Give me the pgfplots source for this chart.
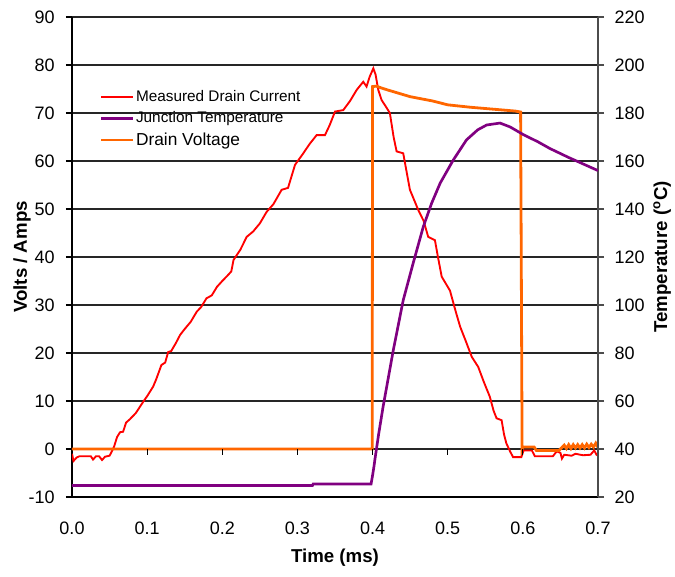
\documentclass[border=0pt]{standalone}
\usepackage{fontspec}
\setmainfont{Liberation Sans}
\usepackage{pgfplots}
\pgfplotsset{compat=1.18}
\definecolor{curred}{RGB}{255,0,0}
\definecolor{temppurple}{RGB}{128,0,128}
\definecolor{voltorange}{RGB}{255,102,0}

\begin{document}
\begin{tikzpicture}
% left axis: drain current and drain voltage
\begin{axis}[
  scale only axis, width=394.5pt, height=360pt,
  xmin=0, xmax=0.7, ymin=-10, ymax=90,
  xtick={0,0.1,0.2,0.3,0.4,0.5,0.6,0.7},
  ytick={-10,0,10,20,30,40,50,60,70,80,90},
  x tick label style={/pgf/number format/fixed, /pgf/number format/fixed zerofill,
    /pgf/number format/precision=1},
  xticklabel style={anchor=center, yshift=-18.75pt},
  yticklabel style={anchor=east, xshift=-5pt},
  /pgf/number format/assume math mode=true,
  tick label style={font=\fontsize{13.5}{16}\selectfont},
  label style={font=\fontsize{14}{16}\selectfont\bfseries},
  axis y line*=left, axis x line*=bottom,
  axis line style={black, line width=1pt},
  xtick style={draw=none},
  ytick style={black, line width=0.9pt},
  tick align=outside, major tick length=4.5pt,
  ymajorgrids, grid style={black!85, line width=0.9pt},
  xlabel={Time (ms)}, ylabel={Volts / Amps},
  xlabel style={at={(axis description cs:0.5,-0.127)}, anchor=center},
  ylabel style={at={(axis description cs:-0.095,0.5)}, anchor=center},
  legend style={at={(rel axis cs:0.05,0.853)}, anchor=north west, draw=none, fill=none,
    font=\fontsize{11.5}{13}\selectfont, row sep=4pt, inner sep=1pt,
    nodes={inner sep=1pt}},
  legend cell align=left,
  legend image code/.code={\draw[#1, line width=2.1pt] (0pt,0pt) -- (24pt,0pt);},
]
\addplot[curred, line width=1.4pt] coordinates {
(0,-1.0) (0.002,-2.5) (0.006,-1.8) (0.01,-1.5) (0.025,-1.5) (0.028,-2.2) (0.032,-1.5)
(0.036,-1.5) (0.04,-2.3) (0.044,-1.6) (0.05,-1.4) (0.053,-0.5) (0.056,0.5) (0.06,2.5)
(0.064,3.5) (0.068,3.6) (0.072,5.5) (0.077,6.2) (0.085,7.5) (0.095,9.9) (0.1,11)
(0.108,13) (0.112,14.5) (0.119,17.5) (0.124,18) (0.128,20.2) (0.132,20.4) (0.138,22)
(0.144,23.8) (0.15,25) (0.158,26.5) (0.166,28.6) (0.172,29.6) (0.179,31.4) (0.186,32)
(0.193,33.8) (0.2,35) (0.208,36.3) (0.212,37) (0.215,39.4) (0.224,41.5) (0.2325,44.2)
(0.241,45.3) (0.25,47) (0.259,49.4) (0.268,51) (0.279,54) (0.2875,54.4) (0.2968,59.2)
(0.3078,61.6) (0.316,63.5) (0.3256,65.4) (0.3367,65.4) (0.343,67.5) (0.35,70.3)
(0.361,70.6) (0.37,72.5) (0.3788,74.8) (0.3876,76.5) (0.392,75.5) (0.396,77.5)
(0.401,79.3) (0.404,78) (0.4076,74.8) (0.412,72.7) (0.417,71.5) (0.423,70) (0.428,65)
(0.432,62) (0.4408,61.6) (0.445,58) (0.4497,54) (0.455,52) (0.4608,49.8) (0.468,47.5)
(0.474,44.2) (0.483,43.5) (0.487,40) (0.492,35.9) (0.503,33) (0.51,29) (0.5165,25.5)
(0.524,22.5) (0.532,19.2) (0.5406,17.1) (0.548,14) (0.556,10.9) (0.561,8) (0.565,6.4)
(0.5717,6) (0.575,3) (0.578,1.2) (0.583,-0.5) (0.587,-1.7) (0.598,-1.7) (0.601,-0.3)
(0.612,-0.3) (0.616,-1.5) (0.64,-1.5) (0.645,-0.5) (0.65,-0.8) (0.652,-2) (0.655,-1.2)
(0.665,-1.4) (0.67,-1.0) (0.68,-1.3) (0.69,-1.2) (0.695,-0.3) (0.698,-1.2) (0.7,-1.4)
};
\addlegendentry{Measured Drain Current}
\addlegendimage{temppurple, line width=2.1pt}
\addlegendentry{Junction Temperature}
\addplot[voltorange, line width=2.1pt] coordinates {
(0,0) (0.3995,0) (0.4,75.5) (0.405,75.6) (0.412,75.2) (0.42,74.8) (0.45,73.4) (0.48,72.5)
(0.5,71.7) (0.53,71.2) (0.56,70.8) (0.59,70.4) (0.597,70.2) (0.599,0) (0.6,0.4)
(0.615,0.4) (0.618,-0.3) (0.648,-0.3) (0.652,0.3) (0.655,0.8) (0.658,0.1) (0.661,0.9)
(0.664,0.1) (0.667,0.9) (0.67,0.2) (0.673,0.9) (0.676,0.2) (0.679,0.9) (0.682,0.2)
(0.685,1.0) (0.688,0.3) (0.691,1.0) (0.694,0.4) (0.697,1.2) (0.7,0.3)
};
\addlegendentry{\fontsize{13}{14}\selectfont Drain Voltage}
\pgfplotsinvokeforeach{0.1,0.2,0.3,0.4,0.5,0.6}{
  \draw[black, line width=0.9pt] (axis cs:#1,0) -- ([yshift=-4.5pt]axis cs:#1,0);
}
\end{axis}
% right axis: junction temperature
\begin{axis}[
  scale only axis, width=394.5pt, height=360pt,
  xmin=0, xmax=0.7, ymin=20, ymax=220,
  ytick={20,40,60,80,100,120,140,160,180,200,220},
  axis y line*=right, axis x line=none,
  /pgf/number format/assume math mode=true,
  tick label style={font=\fontsize{13.5}{16}\selectfont},
  label style={font=\fontsize{14}{16}\selectfont\bfseries},
  yticklabel style={anchor=west, xshift=4.5pt},
  axis line style={black!70, line width=1pt},
  ytick style={black!70, line width=0.9pt},
  tick align=outside, major tick length=4.5pt,
  ylabel={Temperature (\textsuperscript{o}C)},
  ylabel style={at={(axis description cs:1.122,0.5)}, anchor=center},
]
\addplot[temppurple, line width=2pt] coordinates {
(0,24.8) (0.32,24.8) (0.321,25.4) (0.398,25.4) (0.4,29) (0.402,33) (0.403,35.4)
(0.408,46) (0.414,57.6) (0.4276,81.2) (0.4408,102) (0.454,117.4) (0.4675,132.6)
(0.4786,142.4) (0.49,150.8) (0.5074,160.4) (0.525,168.8) (0.54,173) (0.5518,175)
(0.5696,175.8) (0.583,174.2) (0.6006,171) (0.62,168) (0.636,165.2) (0.66,161.6)
(0.68,158.8) (0.7,156)
};
\end{axis}
\pgfresetboundingbox
\path (-54pt,-60pt) rectangle (452.25pt,372.75pt);
\end{tikzpicture}
\end{document}
